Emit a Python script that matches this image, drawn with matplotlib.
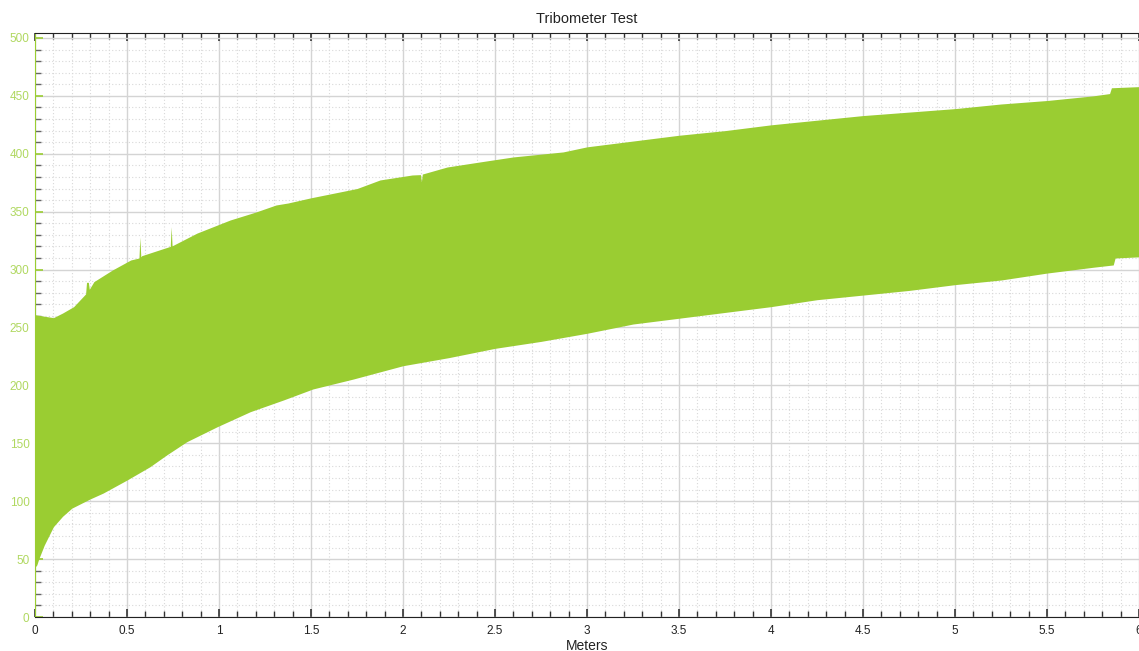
import matplotlib
matplotlib.use("Agg")
import matplotlib.pyplot as plt
from matplotlib.ticker import MultipleLocator
import numpy as np

# Distance (m) and envelope of the friction signal
upper_x = [0.0, 0.1, 0.15, 0.21, 0.275, 0.28, 0.29, 0.295, 0.32, 0.42, 0.52, 0.565, 0.57, 0.575,
           0.58, 0.73, 0.735, 0.74, 0.745, 0.88, 1.06, 1.2, 1.31, 1.375, 1.5, 1.75, 1.875,
           2.05, 2.095, 2.1, 2.105, 2.24, 2.42, 2.6, 2.87, 3.0, 3.25, 3.5, 3.75, 4.0, 4.25,
           4.5, 4.75, 5.0, 5.25, 5.5, 5.75, 5.84, 5.85, 6.0]
upper_y = [261, 258.5, 262.5, 268, 279, 289, 289, 283, 289.6, 299.6, 308.3, 310, 328, 311,
           312, 319.8, 320, 337, 320.5, 331.5, 342.8, 349.7, 355.8, 357.5, 362, 370, 377.4,
           381.7, 382, 375.9, 382.5, 388.6, 393, 397.3, 401.6, 406, 411, 416, 420, 425, 429,
           433, 436, 439, 443, 446, 450, 452, 457, 458]

lower_x = [0.0, 0.01, 0.02, 0.05, 0.1, 0.15, 0.2, 0.3, 0.37, 0.5, 0.625, 0.715, 0.825, 0.99,
           1.17, 1.35, 1.51, 1.73, 2.0, 2.25, 2.5, 2.75, 3.0, 3.25, 3.5, 3.75, 4.0, 4.25,
           4.5, 4.75, 5.0, 5.25, 5.5, 5.75, 5.86, 5.87, 6.0]
lower_y = [43, 45, 50, 62, 78, 87, 94, 102, 107, 118.3, 129.8, 139.9, 151.4, 164.3,
           177.3, 187.4, 196.9, 205.5, 217, 224, 232, 238, 245, 253, 258, 263, 268, 274,
           278, 282, 287, 291, 297, 302, 304, 310, 311]

title = "Tribometer Test"
xlabel = "Meters"

xs = np.union1d(upper_x, lower_x)
up = np.interp(xs, upper_x, upper_y)
lo = np.interp(xs, lower_x, lower_y)

green = "#9acd32"
label_green = "#b0d860"
fam = ['Liberation Sans', 'DejaVu Sans']
plt.rcParams['font.family'] = fam

fig = plt.figure(figsize=(11.39, 6.51), dpi=100)
ax = fig.add_axes([35/1139, (651-617)/651, 1 - 35/1139, (617-33)/651])

ax.fill_between(xs, lo, up, color=green, linewidth=0, zorder=2)

ax.set_xlim(0, 6)
ax.set_ylim(0, 504.3)
ax.xaxis.set_major_locator(MultipleLocator(0.5))
ax.xaxis.set_minor_locator(MultipleLocator(0.1))
ax.yaxis.set_major_locator(MultipleLocator(50))
ax.yaxis.set_minor_locator(MultipleLocator(10))
ax.xaxis.set_major_formatter(plt.FuncFormatter(lambda v, p: ("%g" % v)))

ax.grid(which='major', color='#d4d4d4', linewidth=1.0, linestyle='-', zorder=0)
ax.grid(which='minor', color='#d8d8d8', linewidth=0.8, linestyle=(0, (1, 2)), zorder=0)
ax.set_axisbelow(True)

ax.spines['right'].set_visible(False)
ax.spines['left'].set_color(green)
ax.spines['bottom'].set_color('#222222')
ax.spines['top'].set_color('#222222')

ax.tick_params(axis='x', which='both', direction='in', top=True, bottom=True,
               colors='#333333', labelcolor='#222222', labelsize=8.5, pad=6)
ax.tick_params(axis='x', which='major', length=6, width=1.2)
ax.tick_params(axis='x', which='minor', length=4, width=1.0)
ax.tick_params(axis='y', which='both', direction='in', left=True, right=False,
               labelcolor=label_green, labelsize=8.5, pad=4)
ax.tick_params(axis='y', which='major', length=6, width=1.2, color=green)
ax.tick_params(axis='y', which='minor', length=4, width=1.0, color='#666666')

ax.set_title(title, fontsize=10.5, color='#222222', pad=7)
ax.set_xlabel(xlabel, fontsize=10, color='#222222', labelpad=1)

fig.savefig("out.png", dpi=100)
